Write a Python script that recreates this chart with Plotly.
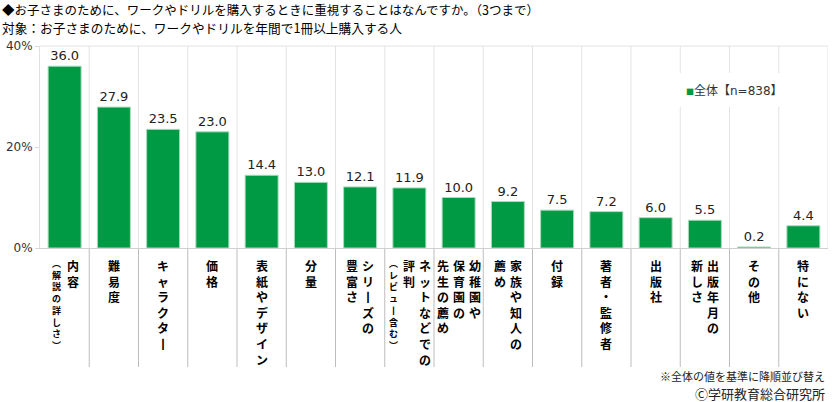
import plotly.graph_objects as go

# data
categories = ["内容（解説の詳しさ）", "難易度", "キャラクター", "価格", "表紙やデザイン", "分量",
              "シリーズの豊富さ", "ネットなどでの評判（レビュー含む）", "幼稚園や保育園の先生の薦め",
              "家族や知人の薦め", "付録", "著者・監修者", "出版社", "出版年月の新しさ", "その他", "特にない"]
values = [36.0, 27.9, 23.5, 23.0, 14.4, 13.0, 12.1, 11.9, 10.0, 9.2, 7.5, 7.2, 6.0, 5.5, 0.2, 4.4]
# vertical label columns, right to left
label_cols = [["内容", "（解説の詳しさ）"], ["難易度"], ["キャラクター"], ["価格"], ["表紙やデザイン"], ["分量"],
              ["シリーズの", "豊富さ"], ["ネットなどでの", "評判", "（レビュー含む）"],
              ["幼稚園や", "保育園の", "先生の薦め"], ["家族や知人の", "薦め"], ["付録"], ["著者・監修者"],
              ["出版社"], ["出版年月の", "新しさ"], ["その他"], ["特にない"]]
y_ticks = [0, 20, 40]
y_tick_text = ["0%", "20%", "40%"]
legend_name = "全体【n=838】"

GREEN = "#009944"
FONT = "Noto Sans CJK JP"
MIXED = "DejaVu Sans, Noto Sans CJK JP"

# plot area in pixels
L, R, T, B = 40, 828, 46, 248


def px(x):
    return (x - L) / (R - L)


def py(y):
    return (B - y) / (B - T)


def vertical(s):
    s = s.replace("ー", "丨").replace("（", "︵").replace("）", "︶")
    return "<br>".join(s)


fig = go.Figure(go.Bar(
    x=categories, y=values, name=legend_name,
    marker=dict(color=GREEN, line=dict(color="#a8dcbc", width=1)),
    width=0.67,
    text=values, texttemplate="%{y:.1f}", textposition="outside",
    textfont=dict(size=13, color="#222222", family="DejaVu Sans"),
    cliponaxis=False, showlegend=False,
))

shapes = []
# light vertical grid in plot area
for k in range(1, 17):
    shapes.append(dict(type="line", xref="x", yref="paper", x0=k - 0.5, x1=k - 0.5, y0=0, y1=1,
                       line=dict(color="#e3e3e3", width=1), layer="below"))
# top border
shapes.append(dict(type="line", xref="paper", yref="paper", x0=0, x1=1, y0=1, y1=1,
                   line=dict(color="#e3e3e3", width=1), layer="below"))
# separators in label area
for k in range(1, 16):
    shapes.append(dict(type="line", xref="x", yref="paper", x0=k - 0.5, x1=k - 0.5, y0=py(249), y1=py(367),
                       line=dict(color="#bdbdbd", width=1)))
# legend box
shapes.append(dict(type="rect", xref="paper", yref="paper", x0=px(679), x1=px(787), y0=py(107), y1=py(73),
                   fillcolor="white", line=dict(width=0), layer="below"))

annotations = []
for i, cols in enumerate(label_cols):
    n = len(cols)
    for j, col in enumerate(cols):
        small = col.startswith("（")
        annotations.append(dict(
            xref="x", yref="paper", x=categories[i], y=py(255), xanchor="center", yanchor="top",
            xshift=(n - 1) / 2 * 16 - j * 16, showarrow=False, align="center",
            text=vertical(col),
            font=dict(size=9 if small else 12, color="#000000", family=FONT, weight="bold"),
        ))

# legend (manual)
annotations.append(dict(xref="paper", yref="paper", x=px(684), y=py(91), xanchor="left", yanchor="middle",
                        showarrow=False, text="■", font=dict(size=8, color=GREEN, family=FONT)))
annotations.append(dict(xref="paper", yref="paper", x=px(692), y=py(91), xanchor="left", yanchor="middle",
                        showarrow=False, text=legend_name, font=dict(size=12, color="#333333", family=MIXED)))

# titles
annotations.append(dict(xref="paper", yref="paper", x=px(1), y=py(9), xanchor="left", yanchor="middle",
                        showarrow=False, borderpad=0,
                        text="◆お子さまのために、ワークやドリルを購入するときに重視することはなんですか。（3つまで）",
                        font=dict(size=12.5, color="#000000", family=FONT)))
annotations.append(dict(xref="paper", yref="paper", x=px(1), y=py(28), xanchor="left", yanchor="middle",
                        showarrow=False, borderpad=0,
                        text="対象：お子さまのために、ワークやドリルを年間で1冊以上購入する人",
                        font=dict(size=12.7, color="#000000", family=FONT)))

# footnotes
annotations.append(dict(xref="paper", yref="paper", x=px(826), y=py(376), xanchor="right", yanchor="middle",
                        showarrow=False, borderpad=0, text="※全体の値を基準に降順並び替え",
                        font=dict(size=11, color="#222222", family=FONT)))
annotations.append(dict(xref="paper", yref="paper", x=px(826), y=py(393.5), xanchor="right", yanchor="middle",
                        showarrow=False, borderpad=0, text="Ⓒ学研教育総合研究所",
                        font=dict(size=13, color="#222222", family=FONT)))

fig.update_layout(
    width=832, height=402,
    margin=dict(l=L, r=832 - R, t=T, b=402 - B),
    paper_bgcolor="white", plot_bgcolor="white",
    bargap=0.33,
    shapes=shapes, annotations=annotations,
    font=dict(family=FONT),
)
fig.update_xaxes(showticklabels=False, showgrid=False, showline=True, linecolor="#d0d0d0",
                 ticks="", range=[-0.5, 15.5], fixedrange=True)
fig.update_yaxes(range=[0, 40], tickvals=y_ticks, ticktext=y_tick_text, showgrid=False,
                 showline=True, linecolor="#e0e0e0", ticks="outside", ticklen=4, tickcolor="#d8d8d8",
                 tickfont=dict(size=12, color="#333333", family="DejaVu Sans"), zeroline=False,
                 fixedrange=True)

fig.write_html("out.html", config={"displayModeBar": False},
               post_script="document.body.style.margin='0';document.body.style.overflow='hidden';")
